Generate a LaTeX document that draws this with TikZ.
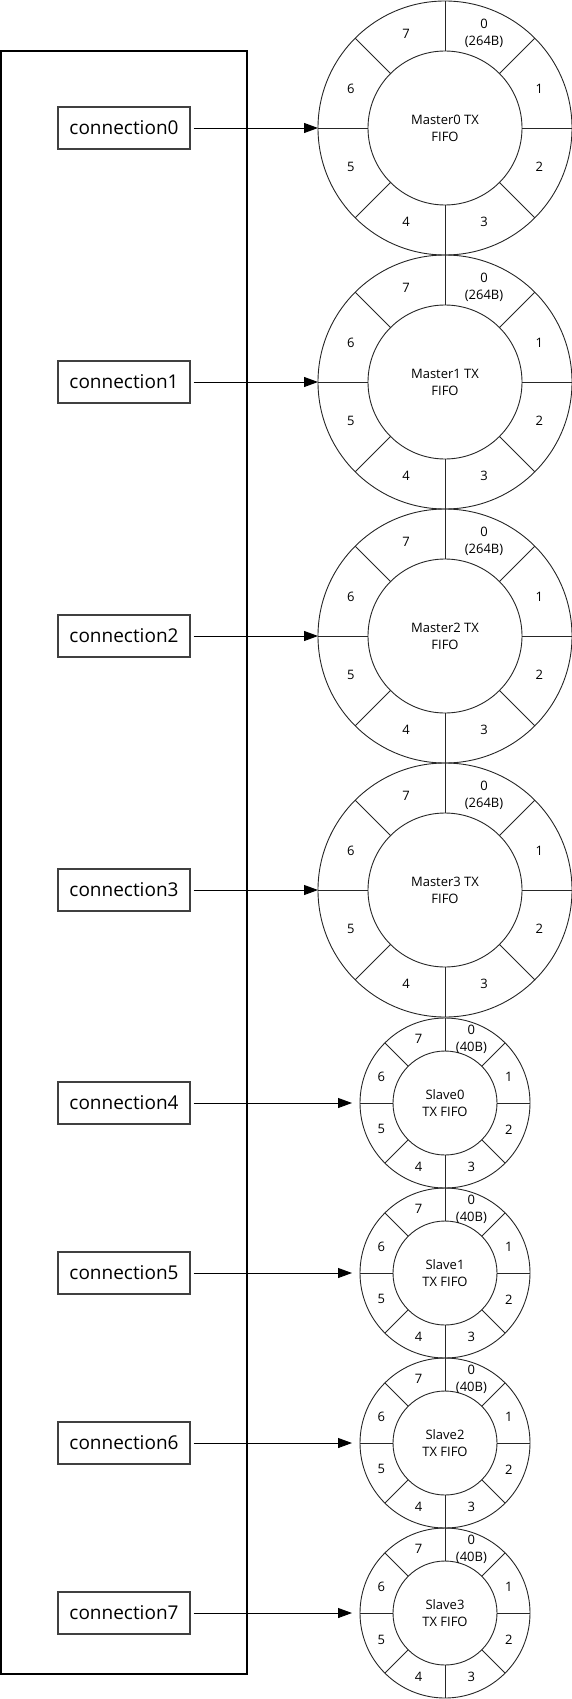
\documentclass[tikz,border=0pt]{standalone}
\usepackage{fontspec}
\setmainfont{Open Sans}
\usetikzlibrary{arrows.meta}
\tikzset{
  ringline/.style={line width=0.9pt, draw=black!85},
  ring/.style={circle, draw=black!85, line width=0.9pt, inner sep=0pt, outer sep=0pt},
  conn/.style={draw=black!75, line width=1.3pt, minimum width=132pt, minimum height=42pt, inner sep=0pt, font=\fontsize{19}{22}\selectfont},
  arr/.style={-{Triangle[length=14pt,width=10pt]}, line width=0.9pt, shorten <=3pt},
  seglabel/.style={font=\fontsize{13}{17}\selectfont, align=center, inner sep=0pt},
  frame/.style={draw=black, line width=2pt, inner sep=0pt, outer sep=0pt, minimum width=246pt, minimum height=1623pt},
}
% #1 name, #2 cx, #3 cy, #4 outer diameter, #5 inner diameter, #6 label radius, #7 centre text, #8 label of segment 0
\newcommand\fiforing[8]{%
  \node[ring, minimum size=#4pt] (#1) at (#2,#3) {};
  \node[ring, minimum size=#5pt, font=\fontsize{13}{17}\selectfont, align=center] (#1in) at (#2,#3) {#7};
  \foreach \a in {0,45,...,315}{\draw[ringline] (#1in.\a) -- (#1.\a);}
  \node[seglabel] (#1s0) at ([shift={(67.5:#6pt)}]#1.center) {#8};
  \foreach \a/\t in {22.5/1,-22.5/2,-67.5/3,-112.5/4,-157.5/5,157.5/6,112.5/7}{%
    \node[seglabel] (#1s\t) at ([shift={(\a:#6pt)}]#1.center) {\t};}
}
\begin{document}
\begin{tikzpicture}[x=1pt,y=-1pt]
\useasboundingbox (0,0) rectangle (572,1699);
\node[frame] (box) at (124,862.5) {};

\fiforing{m0}{445}{128}{254}{154}{102}{Master0 TX\\FIFO}{0\\(264B)}
\fiforing{m1}{445}{382}{254}{154}{102}{Master1 TX\\FIFO}{0\\(264B)}
\fiforing{m2}{445}{636}{254}{154}{102}{Master2 TX\\FIFO}{0\\(264B)}
\fiforing{m3}{445}{890}{254}{154}{102}{Master3 TX\\FIFO}{0\\(264B)}
\fiforing{s0}{445}{1103}{170}{104}{69}{Slave0\\TX FIFO}{0\\(40B)}
\fiforing{s1}{445}{1273}{170}{104}{69}{Slave1\\TX FIFO}{0\\(40B)}
\fiforing{s2}{445}{1443}{170}{104}{69}{Slave2\\TX FIFO}{0\\(40B)}
\fiforing{s3}{445}{1613}{170}{104}{69}{Slave3\\TX FIFO}{0\\(40B)}

\node[conn] (c0) at (124,128) {connection0};
\node[conn] (c1) at (124,382) {connection1};
\node[conn] (c2) at (124,636) {connection2};
\node[conn] (c3) at (124,890) {connection3};
\node[conn] (c4) at (124,1103) {connection4};
\node[conn] (c5) at (124,1273) {connection5};
\node[conn] (c6) at (124,1443) {connection6};
\node[conn] (c7) at (124,1613) {connection7};

\foreach \i in {0,1,2,3}{\draw[arr] (c\i.east) -- (m\i.west);}
\foreach \i/\j in {4/0,5/1,6/2,7/3}{\draw[arr, shorten >=8pt] (c\i.east) -- (s\j.west);}
\end{tikzpicture}
\end{document}
